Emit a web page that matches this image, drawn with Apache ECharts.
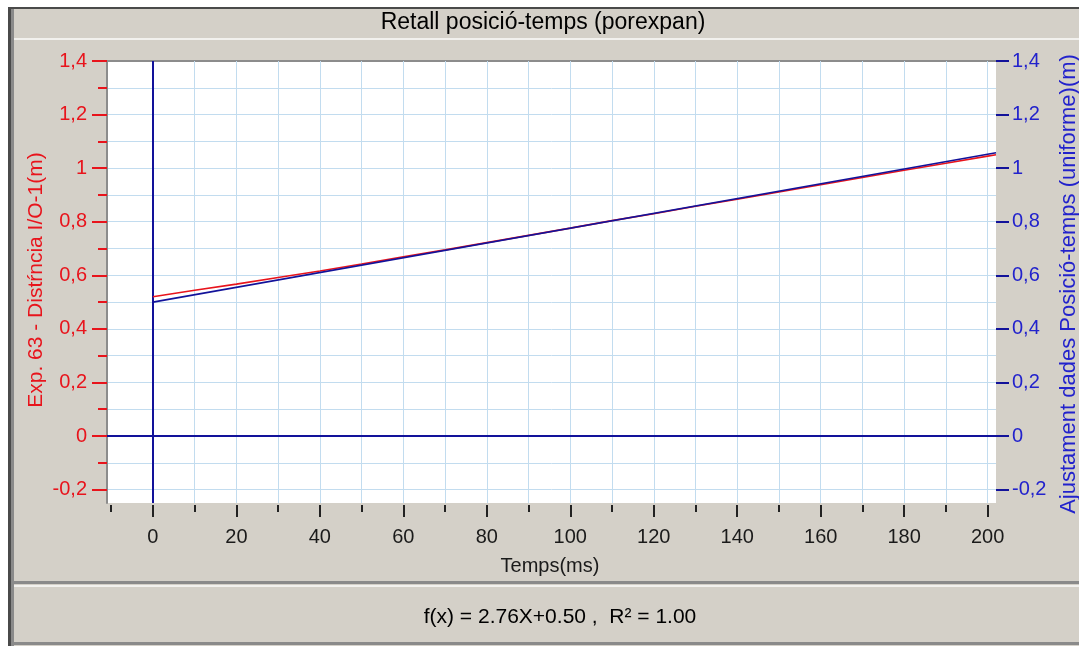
<!DOCTYPE html>
<html>
<head>
<meta charset="utf-8">
<script src="https://cdn.jsdelivr.net/npm/echarts@6/dist/echarts.min.js"></script>
<style>html,body{margin:0;padding:0;background:#d4d0c8;}#c{width:1079px;height:646px;}</style>
</head>
<body>
<div id="c"></div>
<script>
// ---- data ----
const timeMs = [0, 10, 20, 30, 40, 50, 60, 70, 80, 90, 100, 110, 120, 130, 140, 150, 160, 170, 180, 190, 200, 202];
const expDistance = [0.520, 0.544, 0.567, 0.592, 0.616, 0.642, 0.669, 0.695, 0.722, 0.749, 0.776, 0.804, 0.830, 0.858, 0.884, 0.911, 0.938, 0.965, 0.992, 1.018, 1.045, 1.050];
const fitTime = [0, 202];
const fitDistance = [0.50, 1.0575];
const xMajorTicks = [0, 20, 40, 60, 80, 100, 120, 140, 160, 180, 200];
const xMinorTicks = [-10, 0, 10, 20, 30, 40, 50, 60, 70, 80, 90, 100, 110, 120, 130, 140, 150, 160, 170, 180, 190, 200];
const xGridLines = [10, 20, 30, 40, 50, 60, 70, 80, 90, 100, 110, 120, 130, 140, 150, 160, 170, 180, 190, 200];
const yMajorTicks = [-0.2, 0, 0.2, 0.4, 0.6, 0.8, 1, 1.2, 1.4];
const yMinorTicks = [-0.2, -0.1, 0, 0.1, 0.2, 0.3, 0.4, 0.5, 0.6, 0.7, 0.8, 0.9, 1, 1.1, 1.2, 1.3, 1.4];
const titleText = 'Retall posició-temps (porexpan)';
const xName = 'Temps(ms)';
const yLeftName = 'Exp. 63 - Distŕncia I/O-1(m)';
const yRightName = 'Ajustament dades Posició-temps (uniforme)(m)';
const footerText = 'f(x) = 2.76X+0.50 ,  R² = 1.00';

const FONT = '"Liberation Sans", Arial, sans-serif';
const RED = '#e8141c';
const BLUE_TXT = '#2222cc';
const NAVY = '#12129a';
const GRID = '#c2dcef';
const comma = v => String(v).replace('.', ',');

const chart = echarts.init(document.getElementById('c'), null, {renderer: 'canvas'});
const xRange = {min: -11, max: 202};
const yRange = {min: -0.25, max: 1.4};

const option = {
  backgroundColor: '#d4d0c8',
  animation: false,
  grid: {left: 107, top: 61, right: 83, bottom: 143, show: true, backgroundColor: '#ffffff', borderWidth: 0},
  xAxis: [
    {type: 'value', position: 'bottom', ...xRange, offset: 2,
      axisLine: {show: false, onZero: false},
      axisTick: {show: true, customValues: xMajorTicks, length: 12, lineStyle: {color: '#222', width: 2}},
      axisLabel: {show: true, customValues: xMajorTicks, margin: 22, color: '#1a1a1a', fontSize: 20, fontFamily: FONT},
      splitLine: {show: false}},
    {type: 'value', position: 'bottom', ...xRange, offset: 2,
      axisLine: {show: false, onZero: false},
      axisTick: {show: true, customValues: xMinorTicks, length: 7, lineStyle: {color: '#222', width: 2}},
      axisLabel: {show: false},
      splitLine: {show: false}},
    {type: 'value', position: 'top', ...xRange,
      axisLine: {show: true, onZero: false, lineStyle: {color: '#8c8c8c', width: 2}},
      axisTick: {show: false}, axisLabel: {show: false}, splitLine: {show: false}}
  ],
  yAxis: [
    {type: 'value', position: 'left', ...yRange,
      axisLine: {show: true, onZero: false, lineStyle: {color: '#8c8c8c', width: 2}},
      axisTick: {show: true, customValues: yMajorTicks, length: 15, lineStyle: {color: RED, width: 2}},
      axisLabel: {show: true, customValues: yMajorTicks, margin: 20, color: RED, fontSize: 20, fontFamily: FONT, formatter: comma},
      splitLine: {show: false}},
    {type: 'value', position: 'left', ...yRange,
      axisLine: {show: false, onZero: false},
      axisTick: {show: true, customValues: yMinorTicks, length: 9, lineStyle: {color: RED, width: 2}},
      axisLabel: {show: false},
      splitLine: {show: true, lineStyle: {color: GRID, width: 1}}},
    {type: 'value', position: 'right', ...yRange,
      axisLine: {show: false, onZero: false},
      axisTick: {show: true, customValues: yMajorTicks, length: 13, lineStyle: {color: NAVY, width: 2}},
      axisLabel: {show: true, customValues: yMajorTicks, margin: 16, color: BLUE_TXT, fontSize: 20, fontFamily: FONT, formatter: comma},
      splitLine: {show: false}}
  ],
  series: [
    {type: 'line', name: 'grid', xAxisIndex: 0, yAxisIndex: 0, data: [], silent: true, z: 1,
      markLine: {silent: true, symbol: 'none', label: {show: false}, animation: false,
        lineStyle: {color: GRID, width: 1, type: 'solid'},
        data: xGridLines.map(v => ({xAxis: v}))}},
    {type: 'line', name: 'exp', xAxisIndex: 0, yAxisIndex: 0, showSymbol: false, silent: true,
      data: timeMs.map((t, i) => [t, expDistance[i]]),
      lineStyle: {color: RED, width: 1.6}, z: 5},
    {type: 'line', name: 'fit', xAxisIndex: 0, yAxisIndex: 2, showSymbol: false, silent: true,
      data: fitTime.map((t, i) => [t, fitDistance[i]]),
      lineStyle: {color: NAVY, width: 1.6}, z: 6,
      markLine: {silent: true, symbol: 'none', label: {show: false},
        lineStyle: {color: NAVY, width: 2, type: 'solid'},
        data: [{xAxis: 0}, {yAxis: 0}]}}
  ],
  graphic: [
    {type: 'rect', silent: true, z: 50, shape: {x: 0, y: 0, width: 1079, height: 7}, style: {fill: '#ffffff'}},
    {type: 'rect', silent: true, z: 50, shape: {x: 0, y: 0, width: 8, height: 646}, style: {fill: '#ffffff'}},
    {type: 'rect', silent: true, z: 51, shape: {x: 8, y: 7, width: 1071, height: 2}, style: {fill: '#4a4a4a'}},
    {type: 'rect', silent: true, z: 51, shape: {x: 8, y: 7, width: 3, height: 639}, style: {fill: '#4a4a4a'}},
    {type: 'rect', silent: true, z: 51, shape: {x: 11, y: 9, width: 3, height: 637}, style: {fill: '#8a8a8a'}},
    {type: 'rect', silent: true, z: 51, shape: {x: 14, y: 38, width: 1065, height: 2}, style: {fill: '#f2f1ee'}},
    {type: 'rect', silent: true, z: 51, shape: {x: 14, y: 581, width: 1065, height: 3}, style: {fill: '#8a8a8a'}},
    {type: 'rect', silent: true, z: 51, shape: {x: 14, y: 585, width: 1065, height: 2}, style: {fill: '#f2f1ee'}},
    {type: 'rect', silent: true, z: 51, shape: {x: 14, y: 642, width: 1065, height: 3}, style: {fill: '#8a8a8a'}},
    {type: 'text', silent: true, z: 60, x: 543, y: 23,
      style: {text: titleText, font: '23px ' + FONT, fill: '#000', textAlign: 'center', textVerticalAlign: 'middle'}},
    {type: 'text', silent: true, z: 60, x: 550, y: 566,
      style: {text: xName, font: '20px ' + FONT, fill: '#1a1a1a', textAlign: 'center', textVerticalAlign: 'middle'}},
    {type: 'text', silent: true, z: 60, x: 560, y: 617,
      style: {text: footerText, font: '21px ' + FONT, fill: '#000', textAlign: 'center', textVerticalAlign: 'middle'}},
    {type: 'text', silent: true, z: 60, x: 36, y: 280, rotation: Math.PI / 2,
      style: {text: yLeftName, font: '21px ' + FONT, fill: RED, textAlign: 'center', textVerticalAlign: 'middle'}},
    {type: 'text', silent: true, z: 60, x: 1069, y: 284, rotation: Math.PI / 2,
      style: {text: yRightName, font: '22px ' + FONT, fill: BLUE_TXT, textAlign: 'center', textVerticalAlign: 'middle'}}
  ]
};
chart.setOption(option);
</script>
</body>
</html>
